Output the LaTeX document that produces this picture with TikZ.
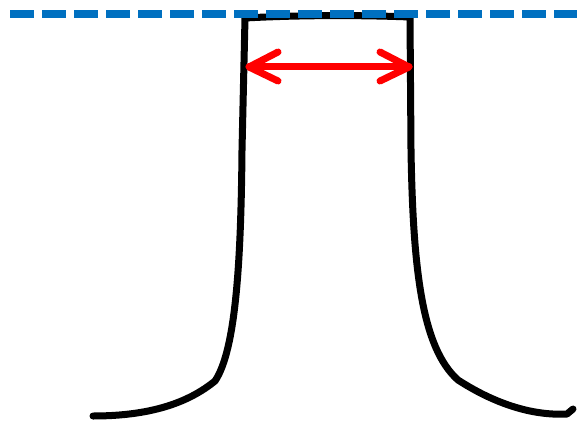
\documentclass[tikz,border=0pt]{standalone}
\begin{document}
\begin{tikzpicture}[x=1pt,y=-1pt,
  outline/.style={line width=7pt,line cap=round,line join=round,black},
  dimarrow/.style={line width=7pt,line cap=round,line join=round,red},
  refline/.style={line width=8pt,dash pattern=on 24pt off 8pt,color={rgb,255:red,0;green,112;blue,192}}]
\useasboundingbox (0,0) rectangle (577,425);
% outline of the shape
\coordinate (TL) at (245,18);
\coordinate (TR) at (410,17);
\coordinate (BL) at (93,416);
\coordinate (BR) at (569,413);
\draw[outline] (BL) .. controls (150,416) and (188,403) .. (215,381)
  .. controls (236,350) and (241,260) .. (242,150) -- (TL)
  .. controls (300,15) and (360,15) .. (TR)
  -- (411,150) .. controls (413,270) and (422,348) .. (458,380)
  .. controls (492,402) and (530,416) .. (567,414) -- (573,409);
% dimension arrow
\coordinate (AL) at (249,67);
\coordinate (AR) at (409,67);
\draw[dimarrow] (AL) -- (AR);
\draw[dimarrow] (278,52) -- (AL) -- (278,81);
\draw[dimarrow] (380,52) -- (AR) -- (380,81);
% reference line
\coordinate (D1) at (10,14);
\coordinate (D2) at (577,14);
\draw[refline] (D1) -- (D2);
\end{tikzpicture}
\end{document}
